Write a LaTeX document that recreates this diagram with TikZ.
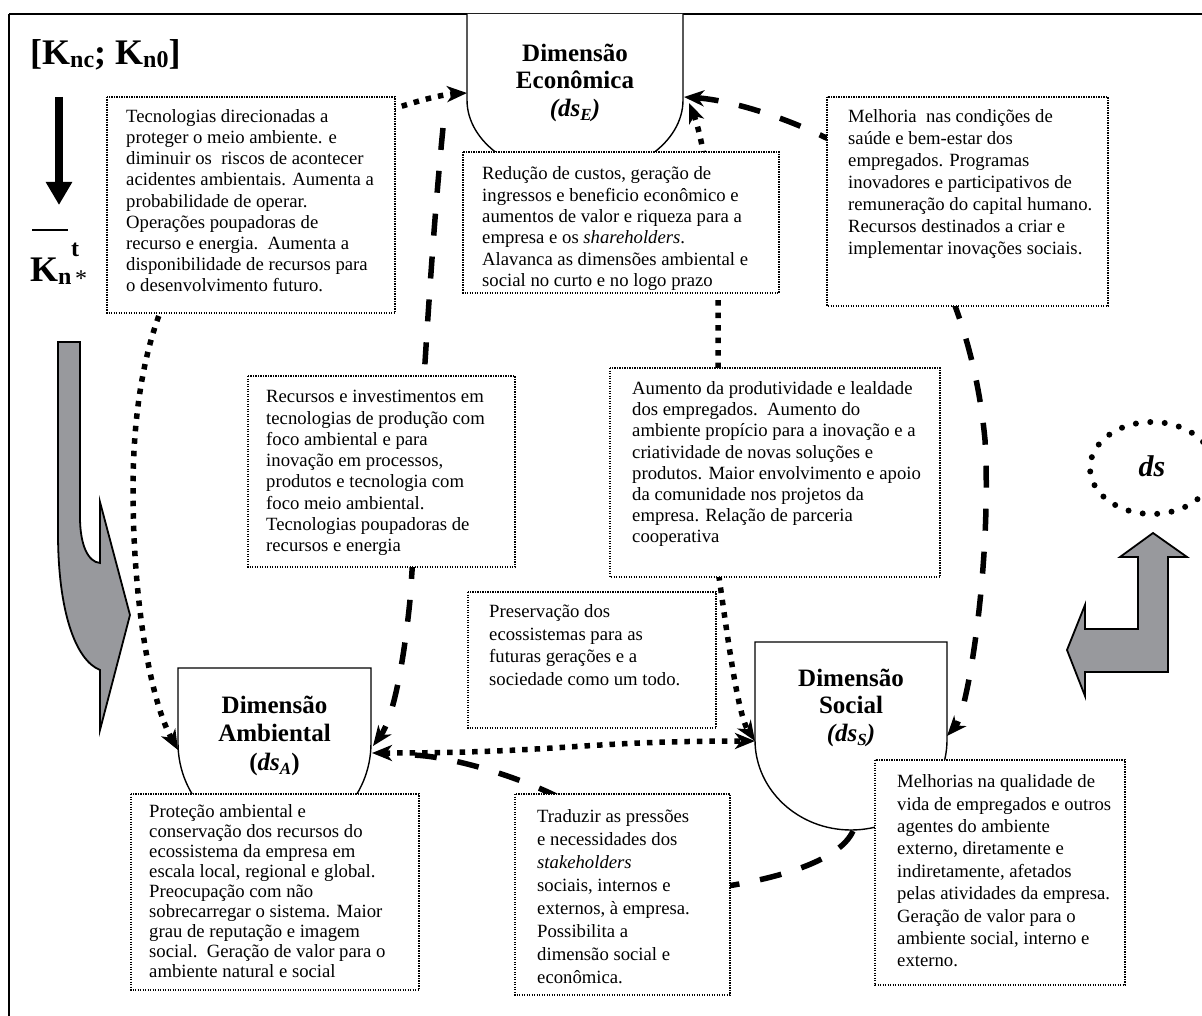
\documentclass[tikz,border=0pt]{standalone}
\usepackage{fontspec}
\setmainfont{Liberation Serif}
\usetikzlibrary{arrows.meta}
\definecolor{arrowgray}{RGB}{152,153,157}
\newcommand\lowsub[1]{\raisebox{-3pt}{\fontsize{24}{24}\selectfont #1}}
\newcommand\dimsub[1]{\raisebox{-4pt}{\fontsize{17}{17}\selectfont #1}}
\newcommand\firstline{\rule{0pt}{15pt}}
\newcommand\titleline{\rule{0pt}{18pt}}

\begin{document}
\begin{tikzpicture}[x=1pt,y=-1pt,
  >={Stealth[length=20pt,width=16pt,inset=6pt]},
  notebox/.style={draw=black, line width=1.1pt, dash pattern=on 1.1pt off 1.4pt, fill=white},
  notetext/.style={anchor=north west, inner sep=0pt, align=left, font=\fontsize{18.7}{#1}\selectfont},
  notetext/.default=20,
  dimshape/.style={draw=black, line width=1.4pt, fill=white},
  dimtitle/.style={anchor=north, inner sep=0pt, align=center, font=\fontsize{25}{#1}\selectfont\bfseries},
  dimtitle/.default=27.5,
  dotlink/.style={line width=5.5pt, dash pattern=on 5.5pt off 7pt},
  dashlink/.style={line width=5.5pt, dash pattern=on 22pt off 21pt},
  grayarrow/.style={draw=black, line width=1.8pt, fill=arrowgray, line join=miter},
  ringdots/.style={line width=6pt, dash pattern=on 0pt off 14.5pt, line cap=round}
]
\useasboundingbox (0,0) rectangle (1202,1016);

% outer frame
\draw[line width=1.5pt] (9,1016) -- (9,14);
\draw[line width=2.8pt] (9,14) -- (1202,14);

% ---------- left column: capital stock symbols ----------
\node[anchor=base west, inner sep=0pt] (kstock) at (30,65)
  {\fontsize{36}{36}\selectfont\bfseries [K\lowsub{nc}; K\lowsub{n0}]};
\coordinate (dtop) at (59,97);
\coordinate (dbot) at (59,205);
\draw[line width=8pt, -{Triangle[length=23pt,width=25pt]}] (dtop) -- (dbot);
\coordinate (barL) at (32,230);
\coordinate (barR) at (68,230);
\draw[line width=1.5pt] (barL) -- (barR);
\node[anchor=base west, inner sep=0pt] (knsym) at (30,282)
  {\fontsize{36}{36}\selectfont\bfseries K\lowsub{n}};
\node[anchor=base west, inner sep=0pt] (knt) at (71,257)
  {\fontsize{24}{24}\selectfont\bfseries t};
\node[anchor=base west, inner sep=0pt] (knstar) at (75,287)
  {\fontsize{24}{24}\selectfont *};

% bent grey arrow on the left
\draw[grayarrow] (58,342) -- (80,342) -- (80,517)
  .. controls (80,545) and (88,562) .. (100,563) -- (100,502) -- (130,615)
  -- (100,730) -- (100,670) .. controls (75,660) and (58,610) .. (58,533) -- cycle;

% ---------- right: ds ring and elbow arrow ----------
\draw[ringdots] (1152,468) ellipse [x radius=62pt, y radius=46pt];
\node[inner sep=0pt] (dslabel) at (1152,466)
  {\fontsize{30}{30}\selectfont\bfseries\itshape ds};
\draw[grayarrow] (1153,533) -- (1187,557) -- (1168,557) -- (1168,672)
  -- (1085,672) -- (1085,696) -- (1067,650) -- (1085,605) -- (1085,629)
  -- (1138,629) -- (1138,557) -- (1120,557) -- cycle;

% ---------- the three dimensions ----------
\path[dimshape] (467,14) -- (467,100) .. controls (467,142.5) and (515.4,177) .. (575,177)
  .. controls (634.6,177) and (683,142.5) .. (683,100) -- (683,14);
\path[dimshape] (178,668) -- (371,668) -- (371,743)
  .. controls (371,797) and (327.8,841) .. (274.5,841)
  .. controls (221.2,841) and (178,797) .. (178,743) -- cycle;
\path[dimshape] (755,642) -- (947,642) -- (947,740)
  .. controls (947,789.7) and (904,830) .. (851,830)
  .. controls (798,830) and (755,789.7) .. (755,740) -- cycle;

\node[dimtitle] (econT) at (575,43)
  {\titleline Dimensão\\Econômica\\{\itshape (ds\dimsub{E})}};
\node[dimtitle=28.5] (ambT) at (274.5,695)
  {\titleline Dimensão\\Ambiental\\(\textit{ds\dimsub{A}})};
\node[dimtitle] (socT) at (851,668)
  {\titleline Dimensão\\Social\\{\itshape (ds\dimsub{S})}};

% attachment points on the dimensions
\coordinate (econW) at (467,93);
\coordinate (econE) at (684,97);
\coordinate (econSE) at (689,103);
\coordinate (econSW) at (443,128);
\coordinate (ambW) at (178,750);
\coordinate (ambE) at (372,753);
\coordinate (ambNE) at (373,746);
\coordinate (socW) at (755,741);
\coordinate (socE) at (947,736);
\coordinate (socB) at (853,831);
\coordinate (tradEnd) at (410,755);

% ---------- connectors ----------
% environmental <-> economic, through the technology note
\draw[dotlink, <->] (ambW) .. controls (150,700) and (133,600) .. (133,490)
  .. controls (133,370) and (160,250) .. (250,200)
  .. controls (300,130) and (430,95) .. (econW);
% economic -> environmental, through the investment note
\draw[dashlink, ->] (econSW) .. controls (428,280) and (420,460) .. (410,600)
  .. controls (403,670) and (392,720) .. (ambNE);
% economic <-> social, through the wellbeing note
\draw[dashlink, <->] (econE) .. controls (730,100) and (790,118) .. (840,145)
  .. controls (930,210) and (975,330) .. (985,440)
  .. controls (992,560) and (968,712) .. (socE);
% economic <-> social, through the cost and productivity notes
\draw[dotlink, <->] (econSE) .. controls (700,130) and (716,200) .. (718,300)
  -- (719,577) .. controls (728,640) and (738,715) .. (socW);
% environmental <-> social
\draw[dotlink, <->] (ambE) .. controls (560,753) and (580,741) .. (socW);
% social -> environmental, through the stakeholder note
\draw[dashlink] (socB) .. controls (840,860) and (780,880) .. (700,890)
  .. controls (620,895) and (590,810) .. (550,793)
  .. controls (500,770) and (440,755) .. (tradEnd);

% ---------- notes ----------
\path[notebox] (107,97) rectangle (395,313);
\node[notetext=21.2] (noteE1) at (126,107) {\firstline Tecnologias direcionadas a\\
proteger o meio ambiente. e\\
diminuir os\ \ riscos de acontecer\\
acidentes ambientais. Aumenta a\\
probabilidade de operar.\\
Operações poupadoras de\\
recurso e energia.\ \ Aumenta a\\
disponibilidade de recursos para\\
o desenvolvimento futuro.};

\path[notebox] (463,152) rectangle (779,293);
\node[notetext=21.4] (noteE2) at (482,164.5) {\firstline Redução de custos, geração de\\
ingressos e beneficio econômico e\\
aumentos de valor e riqueza para a\\
empresa e os \textit{shareholders}.\\
Alavanca as dimensões ambiental e\\
social no curto e no logo prazo};

\path[notebox] (827,97) rectangle (1108,306);
\node[notetext=22] (noteE3) at (848,107.5) {\firstline Melhoria\ \ nas condições de\\
saúde e bem-estar dos\\
empregados. Programas\\
inovadores e participativos de\\
remuneração do capital humano.\\
Recursos destinados a criar e\\
implementar inovações sociais.};

\path[notebox] (248,376) rectangle (515,567);
\node[notetext=21.3] (noteA1) at (266,387.5) {\firstline Recursos e investimentos em\\
tecnologias de produção com\\
foco ambiental e para\\
inovação em processos,\\
produtos e tecnologia com\\
foco meio ambiental.\\
Tecnologias poupadoras de\\
recursos e energia};

\path[notebox] (610,368) rectangle (940,577);
\node[notetext=21.1] (noteS1) at (632,379.5) {\firstline Aumento da produtividade e lealdade\\
dos empregados.\ \ Aumento do\\
ambiente propício para a inovação e a\\
criatividade de novas soluções e\\
produtos. Maior envolvimento e apoio\\
da comunidade nos projetos da\\
empresa. Relação de parceria\\
cooperativa};

\path[notebox] (468,592) rectangle (716,728);
\node[notetext=22.5] (noteP) at (489,602.5) {\firstline Preservação dos\\
ecossistemas para as\\
futuras gerações e a\\
sociedade como um todo.};

\path[notebox] (131,794) rectangle (419,990);
\node[notetext] (noteL) at (149,802) {\firstline Proteção ambiental e\\
conservação dos recursos do\\
ecossistema da empresa em\\
escala local, regional e global.\\
Preocupação com não\\
sobrecarregar o sistema. Maior\\
grau de reputação e imagem\\
social.\ \ Geração de valor para o\\
ambiente natural e social};

\path[notebox] (515,794) rectangle (730,995);
\node[notetext=23] (noteT) at (537,807) {\firstline Traduzir as pressões\\
e necessidades dos\\
\textit{stakeholders}\\
sociais, internos e\\
externos, à empresa.\\
Possibilita a\\
dimensão social e\\
econômica.};

\path[notebox] (875,760) rectangle (1125,985);
\node[notetext=22.4] (noteM) at (897,772.5) {\firstline Melhorias na qualidade de\\
vida de empregados e outros\\
agentes do ambiente\\
externo, diretamente e\\
indiretamente, afetados\\
pelas atividades da empresa.\\
Geração de valor para o\\
ambiente social, interno e\\
externo.};

\end{tikzpicture}
\end{document}
